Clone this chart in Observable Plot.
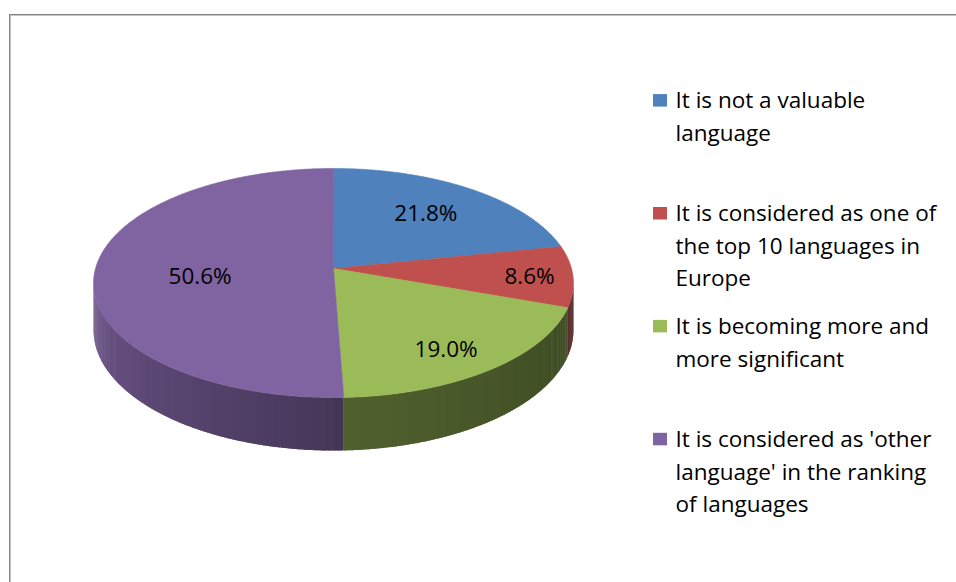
<!DOCTYPE html>
<html><head><meta charset="utf-8">
<script src="https://cdn.jsdelivr.net/npm/d3@7"></script>
<script src="https://cdn.jsdelivr.net/npm/@observablehq/plot@0.6"></script>
<style>
html,body{margin:0;padding:0;background:#fff;overflow:hidden;}
#wrap{position:relative;width:956px;height:582px;overflow:hidden;}
#frame{position:absolute;left:9px;top:14px;width:1200px;height:1000px;border-left:1px solid #858585;border-top:1px solid #858585;box-shadow:inset 1px 1px 0 #c4c4c4;}
#chart{position:absolute;left:0;top:0;}
</style></head><body>
<div id="wrap"><div id="frame"></div><div id="chart"></div></div>
<script>
// ---- data ----
const categories = [
  "It is not a valuable language",
  "It is considered as one of the top 10 languages in Europe",
  "It is becoming more and more significant",
  "It is considered as 'other language' in the ranking of languages"
];
const values = [21.8, 8.6, 19.0, 50.6];
const valueLabels = ["21.8%", "8.6%", "19.0%", "50.6%"];
const colors = ["#4F81BD", "#C0504D", "#9BBB59", "#8064A2"];
const legendLines = [
  ["It is not a valuable", "language"],
  ["It is considered as one of", "the top 10 languages in", "Europe"],
  ["It is becoming more and", "more significant"],
  ["It is considered as 'other", "language' in the ranking", "of languages"]
];

// ---- layout (3D perspective pie) ----
const CX = 333, CY = 268, RX = 238, RY = 112.7, K = 0.1266, DEPTH = 46.3;
const labelR = [0.66, 0.82, 0.78, 0.56];
const labelShift = [[-1, -1], [0, 2], [-7, 4], [0, 7]];
const FONT = "'Open Sans', sans-serif";

function proj(phi, r, h) {
  const X = r * Math.sin(phi), Z = -r * Math.cos(phi);
  const s = 1 / (1 - K * Z);
  return {x: CX + RX * X * s, y: CY + (RY * Z + DEPTH * h) * s};
}
function shade(deg) {
  if (deg <= 180) return 0.38 + 0.14 * Math.max(0, deg - 97) / 83;
  return 0.55 + 0.32 * Math.min(1, (deg - 180) / 83);
}
function scaleColor(c, f) {
  const r = d3.rgb(c);
  return d3.rgb(r.r * f, r.g * f, r.b * f).formatHex();
}

const arcs = d3.pie().sort(null).value(d => d)(values);

// visible side walls (front-facing part of the cylinder)
const PHI_S = Math.acos(-K), PHI_E = 2 * Math.PI - PHI_S;
const sidePts = [];
let qid = 0;
arcs.forEach((a, i) => {
  const s0 = Math.max(a.startAngle, PHI_S), s1 = Math.min(a.endAngle, PHI_E);
  if (s1 <= s0) return;
  const step = Math.PI / 360;
  const n = Math.max(1, Math.ceil((s1 - s0) / step));
  for (let j = 0; j < n; j++) {
    const p0 = s0 + (s1 - s0) * j / n;
    const p1 = Math.min(s1, s0 + (s1 - s0) * (j + 1) / n + 0.006);
    const mid = (p0 + p1) / 2;
    const col = scaleColor(colors[i], shade(mid * 180 / Math.PI));
    [proj(p0, 1, 0), proj(p1, 1, 0), proj(p1, 1, 1), proj(p0, 1, 1)]
      .forEach(p => sidePts.push({...p, id: qid, col}));
    qid++;
  }
});

// top faces
const topPts = [];
arcs.forEach((a, i) => {
  const c = proj(0, 0, 0);
  topPts.push({...c, id: i, col: colors[i]});
  const n = Math.max(2, Math.ceil((a.endAngle - a.startAngle) / (Math.PI / 360)));
  for (let j = 0; j <= n; j++) {
    const p = a.startAngle + (a.endAngle - a.startAngle) * j / n;
    topPts.push({...proj(p, 1, 0), id: i, col: colors[i]});
  }
});

// value labels
const labelData = arcs.map((a, i) => {
  const p = proj((a.startAngle + a.endAngle) / 2, labelR[i], 0);
  return {x: p.x + labelShift[i][0], y: p.y + labelShift[i][1], text: valueLabels[i]};
});

// legend
const LX = 653, LTX = 675, LY0 = 100.6, LSTEP = 112.9, LLINE = 32.5;
const legendBoxes = categories.map((c, i) => ({y0: LY0 + LSTEP * i, col: colors[i], name: c}));
const legendText = legendLines.flatMap((lines, i) => lines.map((t, j) => ({y: LY0 + LSTEP * i + LLINE * j, text: t})));

const chart = Plot.plot({
  width: 956, height: 582, margin: 0,
  x: {domain: [0, 956], range: [0, 956], axis: null},
  y: {domain: [0, 582], range: [0, 582], axis: null},
  color: {type: "identity"},
  style: {fontFamily: FONT, background: "transparent"},
  marks: [
    Plot.line(sidePts, {x: "x", y: "y", z: "id", fill: "col", stroke: "none", curve: "linear-closed"}),
    Plot.line(topPts, {x: "x", y: "y", z: "id", fill: "col", stroke: "col", strokeWidth: 0.6, curve: "linear-closed"}),
    Plot.text(labelData, {x: "x", y: "y", text: "text", fill: "#000", fontSize: 22.5, fontFamily: FONT}),
    Plot.rect(legendBoxes, {x1: LX, x2: LX + 14, y1: d => d.y0 - 6.5, y2: d => d.y0 + 6, fill: "col"}),
    Plot.text(legendText, {x: LTX, y: "y", text: "text", textAnchor: "start", fill: "#000", fontSize: 22.5, fontFamily: FONT})
  ]
});
document.getElementById("chart").appendChild(chart);
</script></body></html>
